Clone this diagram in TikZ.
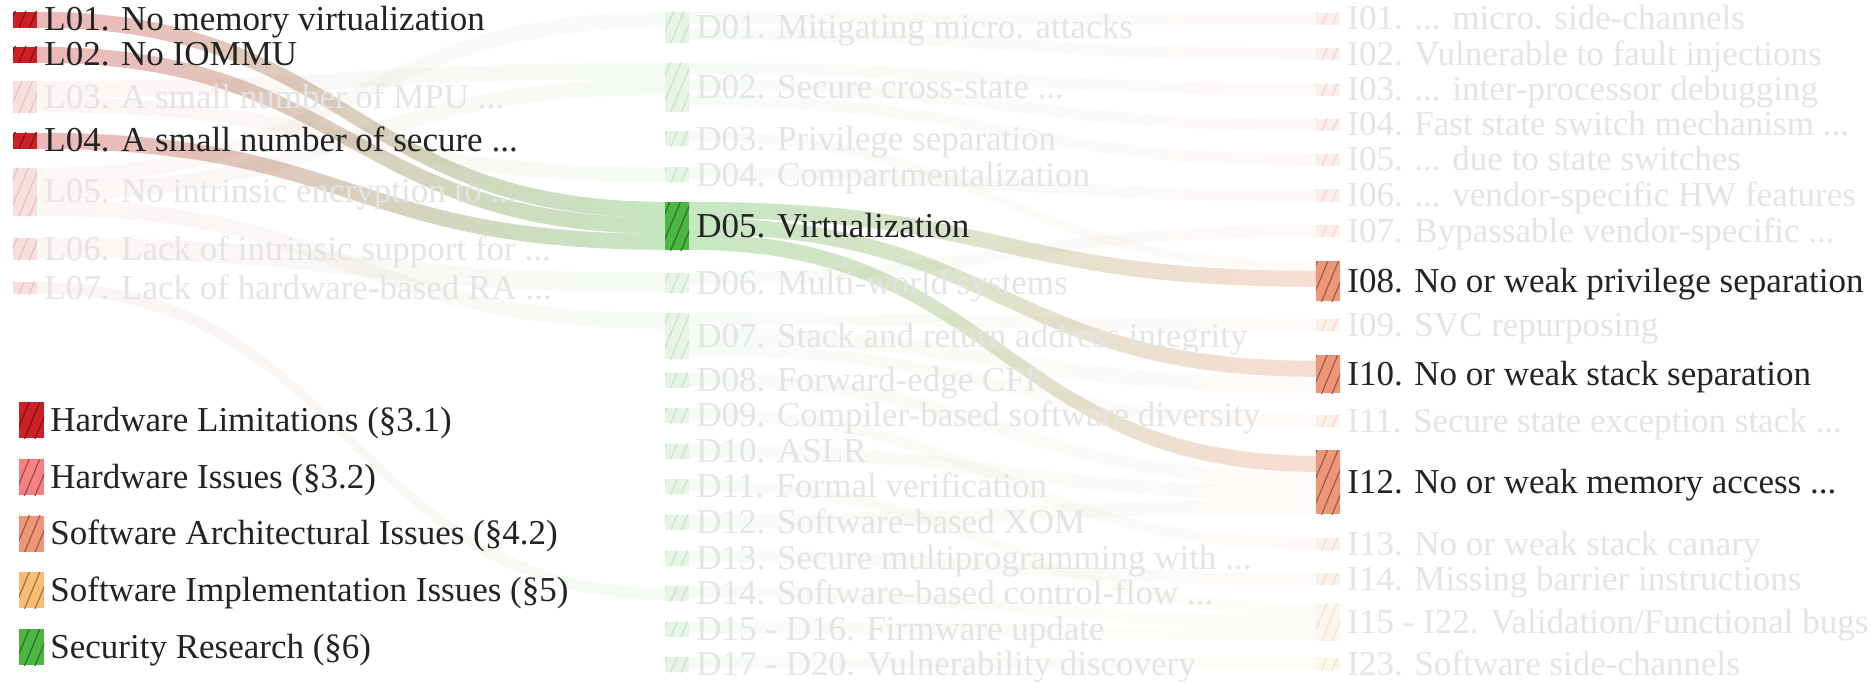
\documentclass[tikz,border=0pt]{standalone}
\usepackage{fontspec}
\setmainfont{Liberation Serif}
\usetikzlibrary{calc}

\definecolor{hwl}{RGB}{204,32,38}
\definecolor{hwi}{RGB}{247,128,128}
\definecolor{swa}{RGB}{239,150,118}
\definecolor{swi}{RGB}{250,188,115}
\definecolor{sr}{RGB}{76,182,66}
\definecolor{txt}{RGB}{35,35,35}
\definecolor{dim}{RGB}{228,228,228}

\pgfdeclarelayer{paper}
\pgfdeclarelayer{flows}
\pgfsetlayers{paper,flows,main}

\tikzset{
  bar/.style={rectangle, inner sep=0pt, minimum width=24pt, fill=#1, draw=none,
    path picture={\foreach \k in {0,...,9}{%
      \draw[#1!62!black, line width=1.2pt]
        ([xshift=\k*10.5pt-50pt, yshift=-8pt]path picture bounding box.south west) -- ++(50pt,120pt);}}},
  faded/.style={opacity=0.14},
  lab/.style={anchor=west, inner sep=0pt, text height=22pt, text depth=0pt,
    font=\fontsize{35}{40}\selectfont, text=txt},
  dimlab/.style={lab, text=dim},
}

% band from the right side of #1 (offset #2 below its top) to the left side of #3
% (offset #4 below its top), #5 thick, shaded from #6 to #7 with opacity #8
\newcommand\flow[8]{%
  \shade[left color=#6, right color=#7, fill opacity=#8]
    let \p1=($(#1.north east)+(0,#2)$), \p2=($(#3.north west)+(0,#4)$),
        \p3=($(\p1)!0.5!(\p2)$) in
    (\p1) .. controls (\x3,\y1) and (\x3,\y2) .. (\p2)
    -- ($(\p2)+(0,#5)$)
    .. controls (\x3,\y2-#5pt) and (\x3,\y1-#5pt) .. ($(\p1)+(0,#5)$) -- cycle;}

\begin{document}
\begin{tikzpicture}[x=1pt, y=-1pt]
\useasboundingbox (0,0) rectangle (1875,682);
\begin{pgfonlayer}{paper}
  \fill[white] (0,0) rectangle (1875,682);
\end{pgfonlayer}

% ---------- limitations ----------
\node[bar=hwl, minimum height=16pt] (L01) at (25,20) {};
\node[bar=hwl, minimum height=16pt] (L02) at (25,55) {};
\node[bar=hwl, faded, minimum height=32pt] (L03) at (25,97.5) {};
\node[bar=hwl, minimum height=16pt] (L04) at (25,141) {};
\node[bar=hwl, faded, minimum height=48pt] (L05) at (25,192) {};
\node[bar=hwl, faded, minimum height=22pt] (L06) at (25,249) {};
\node[bar=hwl, faded, minimum height=12pt] (L07) at (25,288) {};

\node[lab] (tL01) at ([xshift=7pt]L01.east) {L01. No memory virtualization};
\node[lab] (tL02) at ([xshift=7pt]L02.east) {L02. No IOMMU};
\node[dimlab] (tL03) at ([xshift=7pt]L03.east) {L03. A small number of MPU ...};
\node[lab] (tL04) at ([xshift=7pt]L04.east) {L04. A small number of secure ...};
\node[dimlab] (tL05) at ([xshift=7pt]L05.east) {L05. No intrinsic encryption to ...};
\node[dimlab] (tL06) at ([xshift=7pt]L06.east) {L06. Lack of intrinsic support for ...};
\node[dimlab] (tL07) at ([xshift=7pt]L07.east) {L07. Lack of hardware-based RA ...};

% ---------- defenses ----------
\node[bar=sr, faded, minimum height=31pt] (D01) at (677,27.5) {};
\node[bar=sr, faded, minimum height=49pt] (D02) at (677,87.5) {};
\node[bar=sr, faded, minimum height=15pt] (D03) at (677,139) {};
\node[bar=sr, faded, minimum height=15pt] (D04) at (677,175) {};
\node[bar=sr, minimum height=48pt] (D05) at (677,226) {};
\node[bar=sr, faded, minimum height=20pt] (D06) at (677,283) {};
\node[bar=sr, faded, minimum height=46pt] (D07) at (677,336) {};
\node[bar=sr, faded, minimum height=15pt] (D08) at (677,380) {};
\node[bar=sr, faded, minimum height=15pt] (D09) at (677,415.6) {};
\node[bar=sr, faded, minimum height=15pt] (D10) at (677,451.2) {};
\node[bar=sr, faded, minimum height=15pt] (D11) at (677,486.8) {};
\node[bar=sr, faded, minimum height=15pt] (D12) at (677,522.4) {};
\node[bar=sr, faded, minimum height=15pt] (D13) at (677,558) {};
\node[bar=sr, faded, minimum height=15pt] (D14) at (677,593.6) {};
\node[bar=sr, faded, minimum height=15pt] (D15) at (677,629.2) {};
\node[bar=sr, faded, minimum height=15pt] (D17) at (677,664.8) {};

\node[dimlab] (tD01) at ([xshift=7pt]D01.east) {D01. Mitigating micro. attacks};
\node[dimlab] (tD02) at ([xshift=7pt]D02.east) {D02. Secure cross-state ...};
\node[dimlab] (tD03) at ([xshift=7pt]D03.east) {D03. Privilege separation};
\node[dimlab] (tD04) at ([xshift=7pt]D04.east) {D04. Compartmentalization};
\node[lab] (tD05) at ([xshift=7pt]D05.east) {D05. Virtualization};
\node[dimlab] (tD06) at ([xshift=7pt]D06.east) {D06. Multi-world systems};
\node[dimlab] (tD07) at ([xshift=7pt]D07.east) {D07. Stack and return address integrity};
\node[dimlab] (tD08) at ([xshift=7pt]D08.east) {D08. Forward-edge CFI};
\node[dimlab] (tD09) at ([xshift=7pt]D09.east) {D09. Compiler-based software diversity};
\node[dimlab] (tD10) at ([xshift=7pt]D10.east) {D10. ASLR};
\node[dimlab] (tD11) at ([xshift=7pt]D11.east) {D11. Formal verification};
\node[dimlab] (tD12) at ([xshift=7pt]D12.east) {D12. Software-based XOM};
\node[dimlab] (tD13) at ([xshift=7pt]D13.east) {D13. Secure multiprogramming with ...};
\node[dimlab] (tD14) at ([xshift=7pt]D14.east) {D14. Software-based control-flow ...};
\node[dimlab] (tD15) at ([xshift=7pt]D15.east) {D15 - D16. Firmware update};
\node[dimlab] (tD17) at ([xshift=7pt]D17.east) {D17 - D20. Vulnerability discovery};

% ---------- issues ----------
\node[bar=hwi, faded, minimum height=12pt] (I01) at (1328,19) {};
\node[bar=hwi, faded, minimum height=12pt] (I02) at (1328,54.3) {};
\node[bar=hwi, faded, minimum height=12pt] (I03) at (1328,89.6) {};
\node[bar=hwi, faded, minimum height=12pt] (I04) at (1328,125) {};
\node[bar=hwi, faded, minimum height=12pt] (I05) at (1328,160) {};
\node[bar=hwi, faded, minimum height=12pt] (I06) at (1328,195.5) {};
\node[bar=hwi, faded, minimum height=12pt] (I07) at (1328,231) {};
\node[bar=swa, minimum height=40pt] (I08) at (1328,281) {};
\node[bar=swa, faded, minimum height=12pt] (I09) at (1328,325) {};
\node[bar=swa, minimum height=38pt] (I10) at (1328,374) {};
\node[bar=swa, faded, minimum height=12pt] (I11) at (1328,421) {};
\node[bar=swa, minimum height=64pt] (I12) at (1328,482) {};
\node[bar=swa, faded, minimum height=12pt] (I13) at (1328,544) {};
\node[bar=swa, faded, minimum height=12pt] (I14) at (1328,579) {};
\node[bar=swi, faded, minimum height=37pt] (I15) at (1328,622) {};
\node[bar=swi, faded, minimum height=12pt] (I23) at (1328,664) {};

\node[dimlab] (tI01) at ([xshift=7pt]I01.east) {I01. ... micro. side-channels};
\node[dimlab] (tI02) at ([xshift=7pt]I02.east) {I02. Vulnerable to fault injections};
\node[dimlab] (tI03) at ([xshift=7pt]I03.east) {I03. ... inter-processor debugging};
\node[dimlab] (tI04) at ([xshift=7pt]I04.east) {I04. Fast state switch mechanism ...};
\node[dimlab] (tI05) at ([xshift=7pt]I05.east) {I05. ... due to state switches};
\node[dimlab] (tI06) at ([xshift=7pt]I06.east) {I06. ... vendor-specific HW features};
\node[dimlab] (tI07) at ([xshift=7pt]I07.east) {I07. Bypassable vendor-specific ...};
\node[lab] (tI08) at ([xshift=7pt]I08.east) {I08. No or weak privilege separation};
\node[dimlab] (tI09) at ([xshift=7pt]I09.east) {I09. SVC repurposing};
\node[lab] (tI10) at ([xshift=7pt]I10.east) {I10. No or weak stack separation};
\node[dimlab] (tI11) at ([xshift=7pt]I11.east) {I11. Secure state exception stack ...};
\node[lab] (tI12) at ([xshift=7pt]I12.east) {I12. No or weak memory access ...};
\node[dimlab] (tI13) at ([xshift=7pt]I13.east) {I13. No or weak stack canary};
\node[dimlab] (tI14) at ([xshift=7pt]I14.east) {I14. Missing barrier instructions};
\node[dimlab] (tI15) at ([xshift=7pt]I15.east) {I15 - I22. Validation/Functional bugs};
\node[dimlab] (tI23) at ([xshift=7pt]I23.east) {I23. Software side-channels};

% ---------- legend ----------
\node[bar=hwl, minimum width=25pt, minimum height=36pt] (kHWL) at (31.5,420) {};
\node[bar=hwi, minimum width=25pt, minimum height=36pt] (kHWI) at (31.5,477) {};
\node[bar=swa, minimum width=25pt, minimum height=36pt] (kSWA) at (31.5,533.5) {};
\node[bar=swi, minimum width=25pt, minimum height=36pt] (kSWI) at (31.5,590) {};
\node[bar=sr,  minimum width=25pt, minimum height=36pt] (kSR)  at (31.5,647) {};
\node[lab] (tHWL) at ([xshift=6pt]kHWL.east) {Hardware Limitations (§3.1)};
\node[lab] (tHWI) at ([xshift=6pt]kHWI.east) {Hardware Issues (§3.2)};
\node[lab] (tSWA) at ([xshift=6pt]kSWA.east) {Software Architectural Issues (§4.2)};
\node[lab] (tSWI) at ([xshift=6pt]kSWI.east) {Software Implementation Issues (§5)};
\node[lab] (tSR)  at ([xshift=6pt]kSR.east)  {Security Research (§6)};

% ---------- links ----------
\begin{pgfonlayer}{flows}
  % background links
  \flow{L03}{0}{D02}{0}{16}{hwl}{sr}{0.045}
  \flow{L03}{16}{D04}{0}{15}{hwl}{sr}{0.045}
  \flow{L05}{0}{D01}{0}{16}{hwl}{sr}{0.04}
  \flow{L05}{16}{D02}{16}{16}{hwl}{sr}{0.045}
  \flow{L05}{32}{D07}{0}{16}{hwl}{sr}{0.045}
  \flow{L06}{0}{D06}{0}{20}{hwl}{sr}{0.045}
  \flow{L07}{0}{D14}{2}{12}{hwl}{sr}{0.05}
  \flow{D01}{0}{I01}{0}{12}{sr}{hwi}{0.045}
  \flow{D01}{16}{I02}{0}{12}{sr}{hwi}{0.045}
  \flow{D02}{0}{I03}{0}{12}{sr}{hwi}{0.045}
  \flow{D02}{16}{I04}{0}{12}{sr}{hwi}{0.045}
  \flow{D02}{32}{I05}{0}{12}{sr}{hwi}{0.045}
  \flow{D03}{0}{I08}{0}{10}{sr}{swa}{0.045}
  \flow{D04}{0}{I06}{0}{12}{sr}{hwi}{0.045}
  \flow{D06}{0}{I07}{0}{12}{sr}{hwi}{0.045}
  \flow{D07}{0}{I09}{0}{12}{sr}{swa}{0.045}
  \flow{D07}{15}{I10}{22}{16}{sr}{swa}{0.045}
  \flow{D07}{31}{I11}{0}{12}{sr}{swa}{0.045}
  \flow{D08}{0}{I12}{22}{14}{sr}{swa}{0.045}
  \flow{D09}{0}{I13}{0}{12}{sr}{swa}{0.045}
  \flow{D10}{0}{I12}{36}{14}{sr}{swa}{0.045}
  \flow{D11}{0}{I15}{0}{12}{sr}{swi}{0.045}
  \flow{D12}{0}{I12}{50}{14}{sr}{swa}{0.045}
  \flow{D13}{0}{I14}{0}{12}{sr}{swa}{0.045}
  \flow{D14}{0}{I15}{12}{12}{sr}{swi}{0.045}
  \flow{D15}{0}{I15}{24}{12}{sr}{swi}{0.045}
  \flow{D17}{0}{I23}{0}{12}{sr}{swi}{0.045}
  % links through D05
  \flow{L01}{0}{D05}{0}{16}{hwl}{sr}{0.32}
  \flow{L02}{0}{D05}{16}{16}{hwl}{sr}{0.32}
  \flow{L04}{0}{D05}{32}{16}{hwl}{sr}{0.32}
  \flow{D05}{0}{I08}{10}{16}{sr}{swa}{0.32}
  \flow{D05}{16}{I10}{6}{16}{sr}{swa}{0.32}
  \flow{D05}{32}{I12}{6}{16}{sr}{swa}{0.32}
\end{pgfonlayer}
\end{tikzpicture}
\end{document}
